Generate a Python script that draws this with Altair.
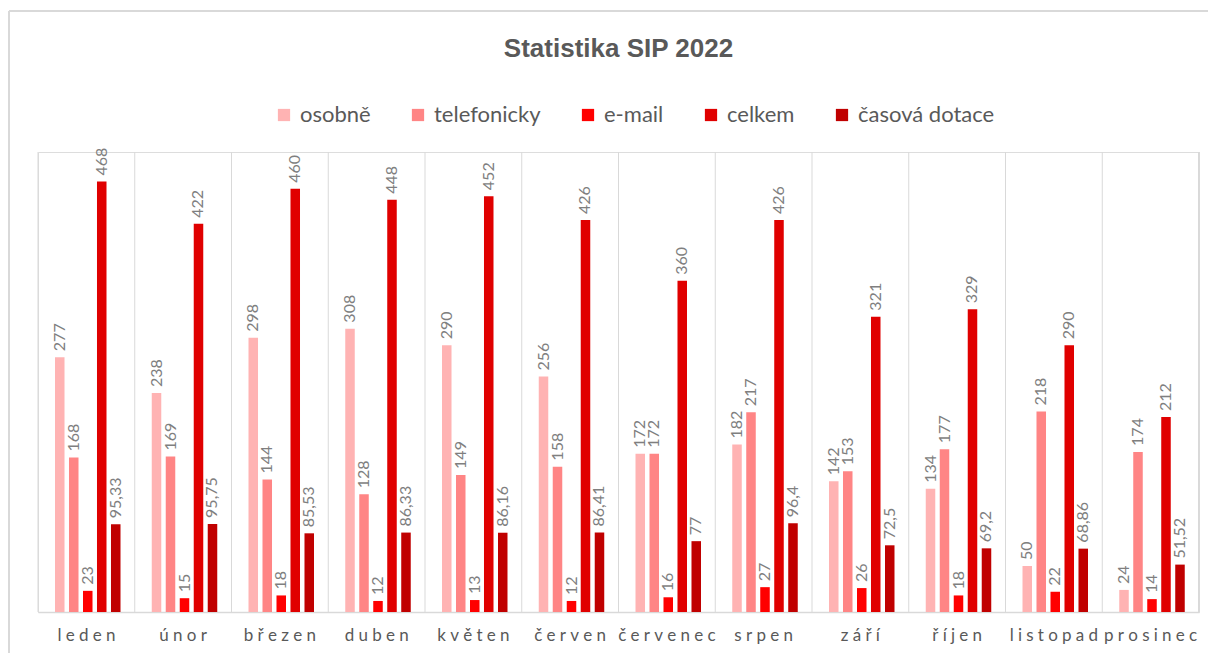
import altair as alt
import pandas as pd

months = ["leden", "únor", "březen", "duben", "květen", "červen", "červenec",
          "srpen", "září", "říjen", "listopad", "prosinec"]
series = ["osobně", "telefonicky", "e-mail", "celkem", "časová dotace"]
colors = ["#FFB3B3", "#FF8585", "#FF0000", "#E00000", "#C00000"]

osobne = [277, 238, 298, 308, 290, 256, 172, 182, 142, 134, 50, 24]
telefonicky = [168, 169, 144, 128, 149, 158, 172, 217, 153, 177, 218, 174]
email = [23, 15, 18, 12, 13, 12, 16, 27, 26, 18, 22, 14]
celkem = [468, 422, 460, 448, 452, 426, 360, 426, 321, 329, 290, 212]
casova = [95.33, 95.75, 85.53, 86.33, 86.16, 86.41, 77, 96.4, 72.5, 69.2, 68.86, 51.52]

rows = []
for s, vals in zip(series, [osobne, telefonicky, email, celkem, casova]):
    for m, v in zip(months, vals):
        rows.append({"month": m, "series": s, "value": v,
                     "label": f"{v:g}".replace(".", ",")})
df = pd.DataFrame(rows)
grid_df = pd.DataFrame({"month": months})

W, H = 1161, 460
FONT = "Lato"

x_enc = alt.X("month:N", sort=months, title=None,
              scale=alt.Scale(paddingInner=0, paddingOuter=0),
              axis=alt.Axis(ticks=False, grid=False, domainColor="#D9D9D9",
                            domainWidth=1.5, labelAngle=0, labelFontSize=17,
                            labelColor="#595959", labelFont=FONT, labelPadding=23,
                            bandPosition=0.5, labelAlign="center",
                            labelExpr="join(split(datum.label, ''), '\u2005')"))
y_enc = alt.Y("value:Q", scale=alt.Scale(domain=[0, 500]), axis=None)
xo = alt.XOffset("series:N", sort=series,
                 scale=alt.Scale(paddingInner=0.32, paddingOuter=0, range=[17, 82.5]))

bars = alt.Chart(df).mark_bar().encode(
    x=x_enc, y=y_enc, xOffset=xo,
    color=alt.Color("series:N", sort=series,
                    scale=alt.Scale(domain=series, range=colors),
                    legend=alt.Legend(orient="none", legendX=235, legendY=-48,
                                      direction="horizontal", title=None,
                                      symbolType="square", symbolSize=150,
                                      symbolStrokeWidth=0, labelFontSize=22,
                                      labelColor="#595959", labelFont=FONT,
                                      columnPadding=36, padding=0, labelOffset=5)),
)

texts = alt.Chart(df).mark_text(angle=270, align="left", baseline="middle", dx=6,
                                fontSize=16, color="#7F7F7F", font=FONT).encode(
    x=alt.X("month:N", sort=months), y="value:Q", xOffset=xo, text="label:N")

grid = alt.Chart(grid_df).mark_rule(color="#D9D9D9", strokeWidth=1).encode(
    x=alt.X("month:N", sort=months, bandPosition=0),
    y=alt.value(0), y2=alt.value(H))

right = alt.Chart(grid_df).mark_rule(color="#D9D9D9", strokeWidth=1).encode(
    x=alt.value(W), y=alt.value(0), y2=alt.value(H))

border_left = alt.Chart(grid_df).mark_rule(color="#D9D9D9", strokeWidth=2).encode(
    x=alt.value(-29), y=alt.value(-141), y2=alt.value(H + 60))
border_top = alt.Chart(grid_df).mark_rule(color="#D9D9D9", strokeWidth=2).encode(
    x=alt.value(-29), x2=alt.value(W + 40), y=alt.value(-141))

chart = alt.layer(border_left, border_top, grid, right, bars, texts).properties(
    width=W, height=H,
    title=alt.TitleParams("Statistika SIP 2022", fontSize=26, fontWeight="bold",
                          color="#595959", font="Liberation Sans", offset=-52,
                          anchor="middle"),
    autosize=alt.AutoSizeParams(type="none"),
    padding={"left": 30, "top": 144, "right": 9, "bottom": 41},
).configure_view(stroke=None).configure(background="white")

chart.save("out.html", embed_options={"renderer": "svg", "actions": False})
